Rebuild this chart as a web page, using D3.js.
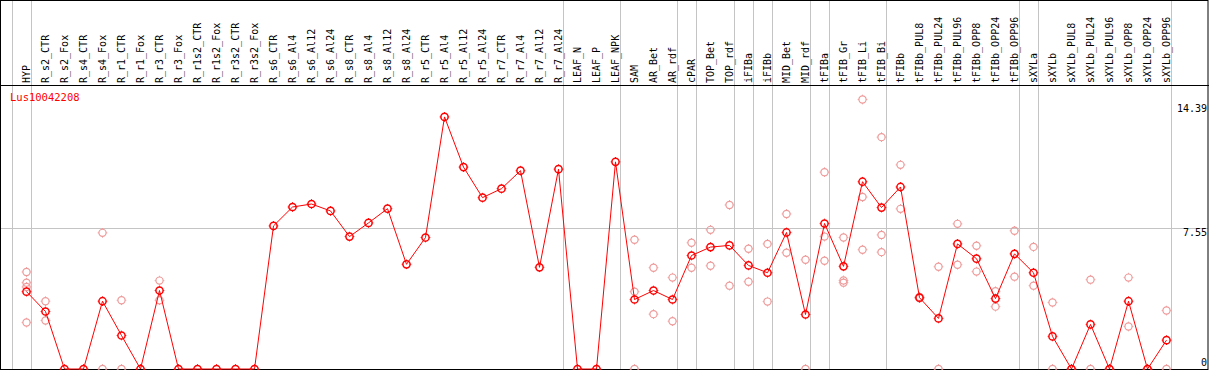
<!DOCTYPE html>
<html>
<head>
<meta charset="utf-8">
<script src="https://cdn.jsdelivr.net/npm/d3@7"></script>
<style>
  body { margin: 0; background: #fff; }
  svg { display: block; }
  text { font-family: "DejaVu Sans Mono", monospace; font-size: 10px; }
</style>
</head>
<body>
<div class="chart"></div>
<script>
var NS = {}; // namespace
NS.width = 1209
NS.height = 370

// categories (left to right)
var categories = ["HYP",
  "R_s2_CTR", "R_s2_Fox", "R_s4_CTR", "R_s4_Fox", "R_r1_CTR", "R_r1_Fox", "R_r3_CTR", "R_r3_Fox",
  "R_r1s2_CTR", "R_r1s2_Fox", "R_r3s2_CTR", "R_r3s2_Fox",
  "R_s6_CTR", "R_s6_Al4", "R_s6_Al12", "R_s6_Al24", "R_s8_CTR", "R_s8_Al4", "R_s8_Al12", "R_s8_Al24",
  "R_r5_CTR", "R_r5_Al4", "R_r5_Al12", "R_r5_Al24", "R_r7_CTR", "R_r7_Al4", "R_r7_Al12", "R_r7_Al24",
  "LEAF_N", "LEAF_P", "LEAF_NPK", "SAM", "AR_Bet", "AR_rdf", "cPAR", "TOP_Bet", "TOP_rdf",
  "iFIBa", "iFIBb", "MID_Bet", "MID_rdf", "tFIBa", "tFIB_Gr", "tFIB_Li", "tFIB_Bi",
  "tFIBb", "tFIBb_PUL8", "tFIBb_PUL24", "tFIBb_PUL96", "tFIBb_OPP8", "tFIBb_OPP24", "tFIBb_OPP96",
  "sXYLa", "sXYLb", "sXYLb_PUL8", "sXYLb_PUL24", "sXYLb_PUL96", "sXYLb_OPP8", "sXYLb_OPP24", "sXYLb_OPP96"];

// mean expression per category
var means = [4.13,
  3.07, 0, 0, 3.62, 1.79, 0, 4.19, 0,
  0, 0, 0, 0,
  7.64, 8.65, 8.81, 8.44, 7.07, 7.80, 8.56, 5.59,
  7.02, 13.46, 10.78, 9.15, 9.63, 10.59, 5.43, 10.67,
  0, 0, 11.06, 3.71, 4.19, 3.71, 6.06, 6.51, 6.60,
  5.53, 5.14, 7.29, 2.91, 7.77, 5.48, 10.0, 8.62,
  9.72, 3.81, 2.70, 6.68, 5.89, 3.76, 6.15,
  5.14, 1.74, 0, 2.38, 0, 3.62, 0, 1.54];

// replicate values per category
var replicates = [[5.18, 4.61, 4.38, 2.48],
  [3.62, 2.59], [], [], [7.27, 0], [3.67, 0], [], [4.72, 3.67], [],
  [], [], [], [],
  [], [], [], [], [], [], [], [],
  [], [], [], [], [], [], [], [],
  [], [], [], [6.90, 4.13, 0], [5.41, 2.93], [4.88, 2.55], [6.74, 5.41], [7.43, 5.51], [8.76, 4.45],
  [6.42, 4.66], [6.68, 3.60], [8.28, 6.21], [5.83, 0], [10.51, 7.07, 5.78], [7.02, 4.73, 4.61], [14.39, 9.18, 6.37], [12.38, 7.16, 6.24],
  [10.90, 8.55], [3.85, 3.78], [5.46, 0], [7.75, 5.57], [6.58, 5.20], [4.15, 3.33], [7.38, 4.93],
  [6.52, 4.45], [3.55, 0], [0], [4.77, 0], [0], [4.88, 2.27], [0], [3.12, 0]];

// last category of each group (a separator is drawn after it)
var groupEnds = ["HYP", "R_r7_Al24", "LEAF_NPK", "AR_rdf", "cPAR", "TOP_rdf", "iFIBa", "iFIBb",
  "MID_rdf", "tFIBa", "tFIB_Bi", "tFIBb_OPP96", "sXYLa", "sXYLb_OPP96"];

var yTicks = [0, 7.55, 14.39];
var geneName = "Lus10042208";

function marker(sel) {
  sel.append("circle").attr("r", 3.6).attr("fill", "none")
  // small ticks on the circle
  sel.append("path").attr("d", "M0,-4.8V-3.8M0,3.8V4.8M-4.8,0H-3.8M3.8,0H4.8")
     .attr("stroke-width", 1)
}

function main() {
  var svg = d3.select(".chart").append("svg")
      .attr("width", NS.width)
      .attr("height", NS.height);

  var x = d3.scalePoint().domain(categories).range([26.5, 1166.5]);
  var step = x.step();
  var y = d3.scaleLinear().domain([0, 14.39]).range([369, 99.5]);
  var headerY = 85.5;

  // vertical separators
  var seps = [x(categories[0]) - step + 4].concat(groupEnds.map(function(c) { return x(c) + 4; }));
  svg.append("g").selectAll("line").data(seps).enter().append("line")
      .attr("x1", function(d) { return Math.round(d) + 0.5; })
      .attr("x2", function(d) { return Math.round(d) + 0.5; })
      .attr("y1", 0).attr("y2", NS.height)
      .attr("stroke", "#c4c4c4");

  // horizontal gridline at the middle tick
  svg.append("line")
      .attr("x1", 1).attr("x2", 1208)
      .attr("y1", Math.round(y(yTicks[1])) + 0.5).attr("y2", Math.round(y(yTicks[1])) + 0.5)
      .attr("stroke", "#c4c4c4");

  // header line and frame
  svg.append("line").attr("x1", 0).attr("x2", 1209).attr("y1", headerY).attr("y2", headerY)
      .attr("stroke", "#000");
  svg.append("rect").attr("x", 0.5).attr("y", 0.5).attr("width", 1207.5).attr("height", 369)
      .attr("fill", "none").attr("stroke", "#000");

  // category labels
  svg.append("g").selectAll("text").data(categories).enter().append("text")
      .attr("transform", function(d) { return "translate(" + x(d) + "," + 83 + ") rotate(-90)"; })
      .attr("dy", "0.35em")
      .attr("fill", "#000")
      .text(function(d) { return d; });

  // y labels on the right
  var yLabelY = function(d) {
    if (d === yTicks[0]) return y(d) - 3.5;
    if (d === yTicks[2]) return y(d) + 12;
    return y(d) + 8;
  };
  svg.append("g").selectAll("text").data(yTicks).enter().append("text")
      .attr("x", 1207).attr("y", yLabelY)
      .attr("text-anchor", "end")
      .text(function(d) { return d; });

  // gene name
  svg.append("text").attr("x", 10).attr("y", 101).attr("fill", "#ff0000")
      .style("font-size", "10.5px").text(geneName);

  // replicate points
  var reps = [];
  replicates.forEach(function(r, i) {
    r.forEach(function(v) { reps.push({c: categories[i], v: v}); });
  });
  svg.append("g").attr("stroke", "#ee9a9a").attr("stroke-width", 1.2)
    .selectAll("g").data(reps).enter().append("g")
      .attr("transform", function(d) { return "translate(" + x(d.c) + "," + y(d.v) + ")"; })
      .call(marker);

  // mean line
  var line = d3.line()
      .x(function(d, i) { return x(categories[i]); })
      .y(function(d) { return y(d); });
  svg.append("path").datum(means)
      .attr("d", line)
      .attr("fill", "none").attr("stroke", "#ff0000").attr("stroke-width", 1);

  svg.append("g").attr("stroke", "#ff0000").attr("stroke-width", 1.5)
    .selectAll("g").data(means).enter().append("g")
      .attr("transform", function(d, i) { return "translate(" + x(categories[i]) + "," + y(d) + ")"; })
      .call(marker);
}

main()
</script>
</body>
</html>
